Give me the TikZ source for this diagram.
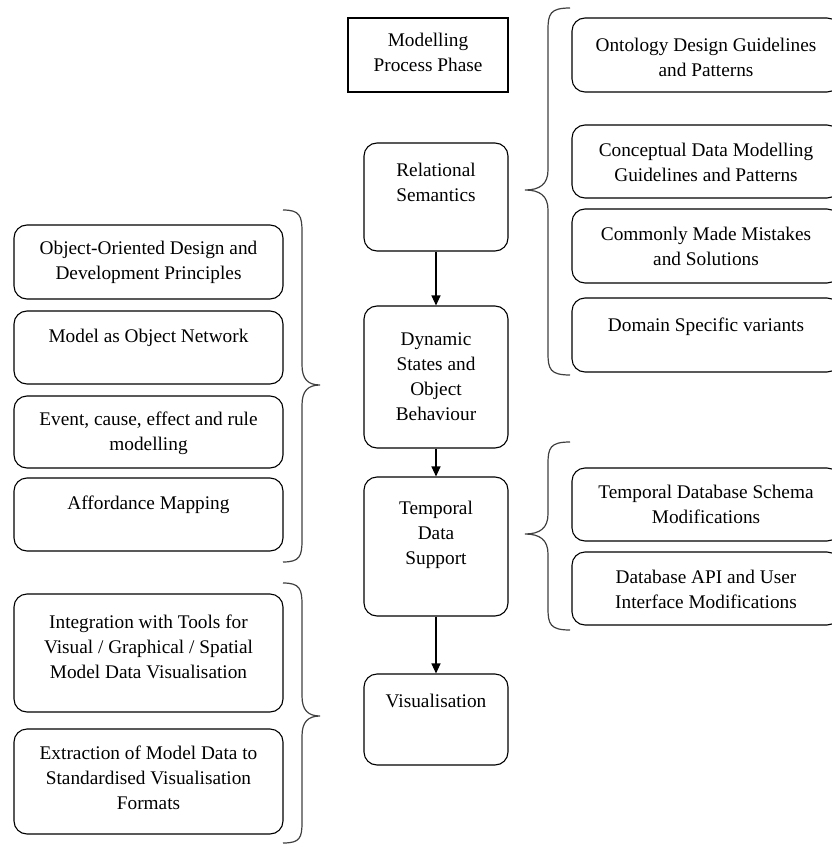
\documentclass[tikz,border=0pt]{standalone}
\usepackage{fontspec}
\setmainfont{Liberation Serif}
\usetikzlibrary{arrows.meta}
\begin{document}
\begin{tikzpicture}[x=1pt,y=-1pt,
  sqbox/.style={draw=black,line width=1.1pt,inner sep=0pt},
  rbox/.style={draw=black,line width=1.1pt,rounded corners=13pt,inner sep=0pt},
  txt/.style={anchor=north,inner sep=0pt,align=center,font=\fontsize{19.3}{25}\selectfont},
  brc/.style={draw=black!75,line width=1.2pt},
  arr/.style={draw=black,line width=1.2pt,-{Triangle[length=10pt,width=9pt]}}]
\useasboundingbox (0,0) rectangle (831,845);
% central column
\node[sqbox,minimum width=160pt,minimum height=74pt] (mpp) at (428,55) {};
\node[rbox,minimum width=144pt,minimum height=108pt] (rel) at (436,197) {};
\node[rbox,minimum width=144pt,minimum height=142pt] (dyn) at (436,377) {};
\node[rbox,minimum width=144pt,minimum height=139pt] (tds) at (436,546.5) {};
\node[rbox,minimum width=144pt,minimum height=91pt] (vis) at (436,719.5) {};
\node[txt] (mppt) at (428,33) {Modelling\\Process Phase};
\node[txt] (relt) at (436,163) {Relational\\Semantics};
\node[txt] (dynt) at (436,333) {Dynamic\\States and\\Object\\Behaviour};
\node[txt] (tdst) at (436,501) {Temporal\\Data\\Support};
\node[txt] (vist) at (436,694) {Visualisation};
\draw[arr] (rel.south) -- (dyn.north);
\draw[arr] (dyn.south) -- (tds.north);
\draw[arr] (tds.south) -- (vis.north);
% right column
\node[rbox,minimum width=268pt,minimum height=74pt] (odg) at (706,55) {};
\node[rbox,minimum width=268pt,minimum height=73pt] (cdm) at (706,161.5) {};
\node[rbox,minimum width=268pt,minimum height=74pt] (cmm) at (706,246) {};
\node[rbox,minimum width=268pt,minimum height=74pt] (dsv) at (706,335) {};
\node[rbox,minimum width=268pt,minimum height=73pt] (tdb) at (706,504.5) {};
\node[rbox,minimum width=268pt,minimum height=73pt] (api) at (706,588.5) {};
\node[txt] (odgt) at (706,38) {Ontology Design Guidelines\\and Patterns};
\node[txt] (cdmt) at (706,143) {Conceptual Data Modelling\\Guidelines and Patterns};
\node[txt] (cmmt) at (706,227) {Commonly Made Mistakes\\and Solutions};
\node[txt] (dsvt) at (706,318) {Domain Specific variants};
\node[txt] (tdbt) at (706,485) {Temporal Database Schema\\Modifications};
\node[txt] (apit) at (706,570) {Database API and User\\Interface Modifications};
% left column
\node[rbox,minimum width=269pt,minimum height=74pt] (ood) at (148.5,262) {};
\node[rbox,minimum width=269pt,minimum height=73pt] (mon) at (148.5,347.5) {};
\node[rbox,minimum width=269pt,minimum height=72pt] (ecr) at (148.5,432) {};
\node[rbox,minimum width=269pt,minimum height=73pt] (afm) at (148.5,514.5) {};
\node[rbox,minimum width=269pt,minimum height=118pt] (itv) at (148.5,653) {};
\node[rbox,minimum width=269pt,minimum height=105pt] (emd) at (148.5,781.5) {};
\node[txt] (oodt) at (148.5,241) {Object-Oriented Design and\\Development Principles};
\node[txt] (mont) at (148.5,329) {Model as Object Network};
\node[txt] (ecrt) at (148.5,412) {Event, cause, effect and rule\\modelling};
\node[txt] (afmt) at (148.5,496) {Affordance Mapping};
\node[txt] (itvt) at (148.5,615) {Integration with Tools for\\Visual / Graphical / Spatial\\Model Data Visualisation};
\node[txt] (emdt) at (148.5,746) {Extraction of Model Data to\\Standardised Visualisation\\Formats};
% braces
\draw[brc] (570,8) .. controls (550,8) and (548,14) .. (548,30) -- (548,170) .. controls (548,184) and (540,190) .. (525,190) .. controls (540,190) and (548,196) .. (548,210) -- (548,353) .. controls (548,369) and (550,375) .. (570,375);
\draw[brc] (570,442) .. controls (550,442) and (548,448) .. (548,464) -- (548,514) .. controls (548,528) and (540,534) .. (525,534) .. controls (540,534) and (548,540) .. (548,554) -- (548,608) .. controls (548,624) and (550,630) .. (570,630);
\draw[brc] (283,210) .. controls (300,210) and (302,216) .. (302,232) -- (302,365) .. controls (302,379) and (308,385) .. (320,385) .. controls (308,385) and (302,391) .. (302,405) -- (302,540) .. controls (302,556) and (300,562) .. (283,562);
\draw[brc] (283,583) .. controls (300,583) and (302,589) .. (302,605) -- (302,696) .. controls (302,710) and (308,716) .. (320,716) .. controls (308,716) and (302,722) .. (302,736) -- (302,822) .. controls (302,838) and (300,843) .. (283,843);
\end{tikzpicture}
\end{document}
